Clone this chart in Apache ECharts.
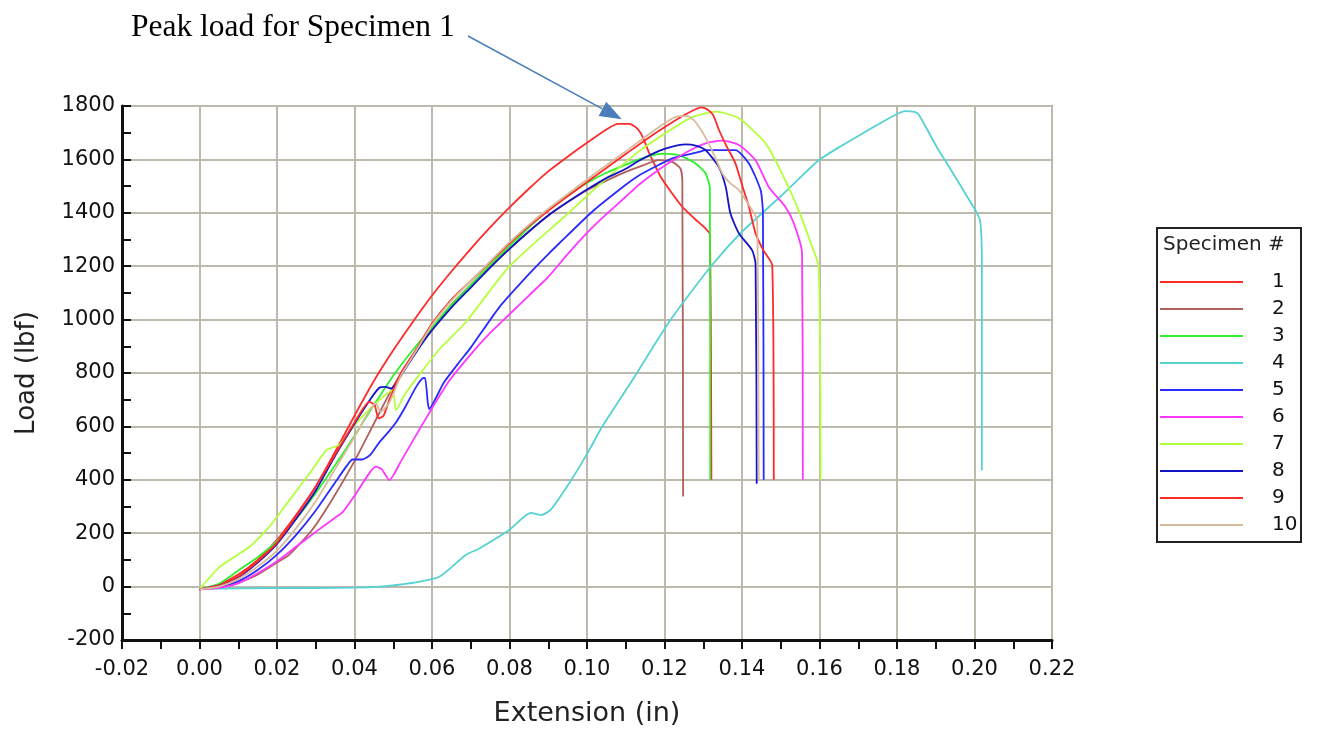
<!DOCTYPE html>
<html>
<head>
    <meta charset="utf-8">
    <title>Load vs Extension</title>
    <script src="https://cdn.jsdelivr.net/npm/echarts@6/dist/echarts.min.js"></script>
    <style>
        html, body { margin: 0; padding: 0; background: #fff; }
        #main { width: 1321px; height: 733px; }
    </style>
</head>
<body>
<div id="main"></div>
<script>
    // axis ticks
    var xTicks = { min: -0.02, max: 0.22, step: 0.02 };
    var yTicks = { min: -200, max: 1800, step: 200 };

    var names = ['1', '2', '3', '4', '5', '6', '7', '8', '9', '10'];
    var colors = ['#ff2a2a', '#b0605a', '#2ef02e', '#55d2d2', '#2a2aff',
                  '#ff36ff', '#b4ff3c', '#1414c4', '#ff2a2a', '#d9ba9a'];

    // [extension (in), load (lbf)]
    var spec1 = [[0,-10],[0.005,8],[0.01,45],[0.015,100],[0.02,175],[0.025,270],[0.03,375],[0.035,505],
        [0.04,640],[0.045,770],[0.05,885],[0.055,990],[0.06,1090],[0.065,1180],[0.07,1265],[0.075,1345],
        [0.08,1420],[0.085,1490],[0.09,1555],[0.095,1610],[0.1,1662],[0.105,1712],[0.108,1733],[0.111,1733],
        [0.113,1715],[0.1145,1680],[0.116,1625],[0.119,1535],[0.122,1472],[0.1246,1422],[0.128,1375],
        [0.1306,1341],[0.1317,1320],[0.1321,400]];
    var spec2 = [[0,-10],[0.005,-2],[0.01,15],[0.015,45],[0.02,90],[0.0232,120],[0.0292,215],[0.0344,330],
        [0.04,470],[0.045,610],[0.05,750],[0.055,865],[0.06,965],[0.065,1055],[0.07,1130],[0.075,1200],
        [0.08,1265],[0.085,1330],[0.09,1390],[0.095,1440],[0.1,1485],[0.105,1520],[0.11,1553],[0.1134,1572],
        [0.1186,1597],[0.122,1591],[0.1241,1566],[0.1246,1520],[0.1248,337]];
    var spec3 = [[0,-10],[0.005,10],[0.01,60],[0.015,110],[0.02,170],[0.025,255],[0.03,350],[0.035,455],
        [0.04,565],[0.045,680],[0.05,790],[0.055,885],[0.06,970],[0.065,1055],[0.07,1130],[0.075,1205],
        [0.08,1275],[0.085,1345],[0.09,1410],[0.095,1465],[0.1,1512],[0.105,1550],[0.11,1580],[0.1134,1600],
        [0.1165,1614],[0.1194,1622],[0.1237,1616],[0.128,1585],[0.1306,1548],[0.1317,1491],[0.1318,400]];
    var spec4 = [[0,-8],[0.02,-6],[0.04,-4],[0.0464,0],[0.0541,12],[0.0619,37],[0.0687,118],[0.0722,143],
        [0.0799,212],[0.0855,276],[0.0881,268],[0.0906,287],[0.0954,387],[0.1001,499],[0.1039,599],
        [0.1117,773],[0.1216,1000],[0.1319,1198],[0.14,1329],[0.15,1462],[0.155,1532],[0.1598,1597],
        [0.165,1645],[0.17,1688],[0.175,1730],[0.18,1770],[0.1821,1781],[0.1845,1778],[0.1856,1768],
        [0.1907,1635],[0.1924,1597],[0.2002,1410],[0.2015,1366],[0.2019,1210],[0.2019,436]];
    var spec5 = [[0,-10],[0.005,0],[0.01,20],[0.015,62],[0.02,120],[0.025,195],[0.03,285],[0.035,390],
        [0.038,452],[0.0395,476],[0.042,476],[0.044,492],[0.0464,540],[0.0485,575],[0.0507,615],[0.053,670],
        [0.0559,748],[0.0575,780],[0.0582,782],[0.0589,690],[0.0593,665],[0.0612,712],[0.0631,765],
        [0.067,840],[0.07,895],[0.0773,1045],[0.085,1170],[0.0902,1248],[0.0928,1285],[0.1014,1405],
        [0.11,1505],[0.1134,1540],[0.1186,1580],[0.122,1604],[0.1289,1628],[0.1306,1635],[0.1383,1635],
        [0.1418,1585],[0.1448,1485],[0.1454,1400],[0.1456,400]];
    var spec6 = [[0,-10],[0.005,-5],[0.01,12],[0.015,50],[0.02,95],[0.025,150],[0.03,205],[0.035,258],
        [0.037,280],[0.04,340],[0.0438,424],[0.0455,449],[0.047,440],[0.049,399],[0.052,470],[0.055,545],
        [0.06,668],[0.0644,770],[0.07,870],[0.075,950],[0.08,1020],[0.085,1090],[0.09,1160],[0.095,1245],
        [0.1,1325],[0.105,1395],[0.11,1460],[0.1134,1505],[0.1186,1562],[0.122,1595],[0.1271,1638],
        [0.1306,1660],[0.1349,1670],[0.1392,1654],[0.1435,1597],[0.1469,1497],[0.1512,1422],[0.1534,1360],
        [0.1555,1248],[0.1557,400]];
    var spec7 = [[0,-10],[0.0052,74],[0.0129,149],[0.018,224],[0.0232,324],[0.0284,424],[0.0327,511],
        [0.0344,521],[0.036,530],[0.038,565],[0.04,605],[0.045,680],[0.0498,736],[0.0507,661],[0.053,720],
        [0.056,780],[0.062,890],[0.0687,990],[0.0799,1198],[0.0945,1390],[0.1031,1504],[0.11,1590],
        [0.1134,1630],[0.1188,1685],[0.122,1715],[0.1274,1760],[0.1332,1779],[0.1392,1754],[0.1461,1660],
        [0.1503,1548],[0.1546,1410],[0.1581,1273],[0.1598,1198],[0.1603,400]];
    var spec8 = [[0,-10],[0.005,5],[0.01,35],[0.015,90],[0.02,160],[0.025,255],[0.03,360],[0.035,490],
        [0.04,610],[0.044,700],[0.0464,745],[0.048,748],[0.0495,742],[0.052,790],[0.056,880],[0.06,960],
        [0.065,1045],[0.07,1120],[0.075,1195],[0.08,1265],[0.085,1330],[0.09,1390],[0.095,1440],[0.1,1487],
        [0.105,1530],[0.11,1565],[0.1134,1595],[0.1186,1632],[0.122,1648],[0.1254,1656],[0.128,1652],
        [0.1306,1635],[0.134,1572],[0.1358,1497],[0.137,1398],[0.1392,1323],[0.1426,1260],[0.1435,1210],
        [0.1438,385]];
    var spec9 = [[0,-10],[0.005,5],[0.01,38],[0.015,95],[0.02,165],[0.025,265],[0.03,375],[0.035,495],
        [0.04,615],[0.0438,692],[0.0452,680],[0.0462,630],[0.0475,640],[0.049,700],[0.052,800],[0.056,890],
        [0.06,985],[0.065,1075],[0.07,1145],[0.075,1215],[0.08,1285],[0.085,1350],[0.09,1408],[0.095,1462],
        [0.1,1515],[0.105,1568],[0.11,1620],[0.115,1672],[0.12,1720],[0.125,1765],[0.128,1788],[0.1295,1795],
        [0.131,1788],[0.1326,1765],[0.134,1712],[0.136,1650],[0.1383,1585],[0.14,1505],[0.1418,1422],
        [0.1435,1323],[0.1455,1260],[0.1478,1204],[0.1482,400]];
    var spec10 = [[0,-10],[0.005,0],[0.01,28],[0.015,75],[0.02,135],[0.025,220],[0.03,320],[0.035,440],
        [0.04,560],[0.0455,686],[0.0468,655],[0.049,690],[0.052,790],[0.056,885],[0.06,980],[0.065,1070],
        [0.07,1145],[0.075,1218],[0.08,1290],[0.085,1355],[0.09,1415],[0.095,1470],[0.1,1525],[0.105,1578],
        [0.11,1630],[0.115,1684],[0.12,1735],[0.1235,1762],[0.126,1762],[0.128,1740],[0.1314,1660],
        [0.1349,1548],[0.137,1510],[0.1392,1485],[0.1426,1410],[0.1439,1373],[0.1443,400]];

    var allSpecs = [spec1, spec2, spec3, spec4, spec5, spec6, spec7, spec8, spec9, spec10];
    var peak1 = [0.1095, 1735];

    var myChart = echarts.init(document.getElementById('main'));

    var seriesItems = [];
    for (var i = 0; i < allSpecs.length; i++) {
        seriesItems.push({
            name: names[i],
            type: 'line',
            data: allSpecs[i],
            symbol: 'none',
            showSymbol: false,
            smooth: 0.2,
            color: colors[i],
            lineStyle: { color: colors[i], width: 1.8 },
            animation: false
        });
    }

    var tickFont = 'DejaVu Sans';
    var option = {
        animation: false,
        backgroundColor: '#fff',
        grid: {
            left: 122, right: 269, top: 106, bottom: 93,
            show: true, borderColor: '#444', borderWidth: 1.5
        },
        xAxis: {
            type: 'value',
            min: xTicks.min, max: xTicks.max, interval: xTicks.step,
            name: 'Extension (in)',
            nameLocation: 'middle',
            nameGap: 60,
            nameTextStyle: { fontFamily: tickFont, fontSize: 27, color: '#222' },
            axisLine: { show: true, onZero: false, lineStyle: { color: '#111', width: 3 } },
            axisTick: { show: true, length: 9, lineStyle: { color: '#111', width: 2 } },
            minorTick: { show: true, splitNumber: 2, length: 9, lineStyle: { color: '#111', width: 2 } },
            splitLine: { show: true, lineStyle: { color: '#bdb9ad', width: 2 } },
            axisLabel: {
                fontFamily: tickFont, fontSize: 21, color: '#111', margin: 19,
                showMinLabel: true, showMaxLabel: true,
                formatter: function (v) { return v.toFixed(2); }
            }
        },
        yAxis: {
            type: 'value',
            min: yTicks.min, max: yTicks.max, interval: yTicks.step,
            name: 'Load (lbf)',
            nameLocation: 'middle',
            nameGap: 82,
            nameTextStyle: { fontFamily: tickFont, fontSize: 26, color: '#222' },
            axisLine: { show: true, onZero: false, lineStyle: { color: '#111', width: 3 } },
            axisTick: { show: true, inside: true, length: 9, lineStyle: { color: '#111', width: 2 } },
            minorTick: { show: true, splitNumber: 2, length: 9, lineStyle: { color: '#111', width: 2 } },
            splitLine: { show: true, lineStyle: { color: '#bdb9ad', width: 2 } },
            axisLabel: {
                fontFamily: tickFont, fontSize: 21, color: '#111', margin: 7,
                showMinLabel: true, showMaxLabel: true,
                formatter: function (v) { return String(v); }
            }
        },
        legend: {
            data: names,
            orient: 'vertical',
            left: 1160,
            top: 272,
            padding: 0,
            icon: 'rect',
            itemWidth: 83,
            itemHeight: 2,
            itemGap: 7,
            selectedMode: false,
            textStyle: {
                fontFamily: tickFont, fontSize: 20, color: '#111',
                lineHeight: 18, padding: [0, 0, 0, 24]
            }
        },
        series: seriesItems
    };
    myChart.setOption(option);

    // legend frame, legend title and the peak annotation
    var start = [468, 36];
    var pk = myChart.convertToPixel({ gridIndex: 0 }, peak1);
    var tip = [pk[0] - 2, pk[1] - 4];
    var dx = tip[0] - start[0], dy = tip[1] - start[1];
    var len = Math.sqrt(dx * dx + dy * dy);
    var ux = dx / len, uy = dy / len;
    var headLen = 22, headHalf = 8;
    var base = [tip[0] - ux * headLen, tip[1] - uy * headLen];

    myChart.setOption({
        graphic: [
            {
                type: 'rect',
                shape: { x: 1157, y: 228, width: 144, height: 314 },
                style: { fill: 'none', stroke: '#222', lineWidth: 2 }
            },
            {
                type: 'text',
                x: 1163, y: 245,
                style: {
                    text: 'Specimen #', fill: '#222',
                    font: '20px "DejaVu Sans"', verticalAlign: 'middle'
                }
            },
            {
                type: 'text',
                x: 131, y: 28,
                style: {
                    text: 'Peak load for Specimen 1', fill: '#000',
                    font: '31.5px "Liberation Serif"', verticalAlign: 'middle'
                }
            },
            {
                type: 'line',
                shape: { x1: start[0], y1: start[1], x2: base[0], y2: base[1] },
                style: { stroke: '#4a7ebb', lineWidth: 1.5 }
            },
            {
                type: 'polygon',
                shape: {
                    points: [
                        tip,
                        [base[0] - uy * headHalf, base[1] + ux * headHalf],
                        [base[0] + uy * headHalf, base[1] - ux * headHalf]
                    ]
                },
                style: { fill: '#4a7ebb' }
            }
        ]
    });
</script>
</body>
</html>
